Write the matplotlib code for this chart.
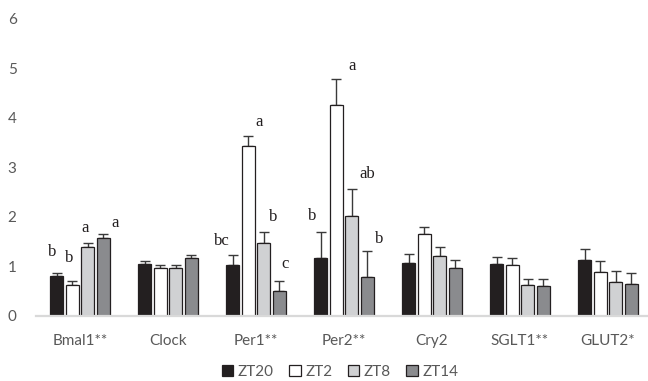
import matplotlib
matplotlib.use("Agg")
import matplotlib.pyplot as plt
from matplotlib.patches import Patch
import numpy as np

categories = ["Bmal1**", "Clock", "Per1**", "Per2**", "Cry2", "SGLT1**", "GLUT2*"]
series = ["ZT20", "ZT2", "ZT8", "ZT14"]

zt20 = [0.79, 1.05, 1.02, 1.16, 1.07, 1.05, 1.13]
zt2 = [0.61, 0.97, 3.42, 4.25, 1.64, 1.02, 0.88]
zt8 = [1.39, 0.97, 1.47, 2.01, 1.21, 0.61, 0.68]
zt14 = [1.57, 1.17, 0.49, 0.78, 0.97, 0.60, 0.63]

zt20_err = [0.08, 0.06, 0.20, 0.53, 0.18, 0.13, 0.22]
zt2_err = [0.08, 0.06, 0.21, 0.53, 0.16, 0.14, 0.22]
zt8_err = [0.08, 0.06, 0.22, 0.54, 0.17, 0.12, 0.22]
zt14_err = [0.07, 0.06, 0.21, 0.53, 0.16, 0.13, 0.23]

# significance letters: (category index, series index, text)
letters = [
    (0, 0, "b"), (0, 1, "b"), (0, 2, "a"), (0, 3, "a"),
    (2, 0, "bc"), (2, 1, "a"), (2, 2, "b"), (2, 3, "c"),
    (3, 0, "b"), (3, 1, "a"), (3, 2, "ab"), (3, 3, "b"),
]
# offsets in pixels for each letter (dx, dy)
letter_offsets = [
    (-4, 21), (-3, 23), (-3, 15), (12, 11),
    (-11, 14), (11, 14), (9, 15), (6, 17),
    (-8, 16), (16, 13), (15, 15), (12, 12),
]

values = [zt20, zt2, zt8, zt14]
errors = [zt20_err, zt2_err, zt8_err, zt14_err]
colors = ["#231f20", "#ffffff", "#d0d1d3", "#8a8b8e"]

fig = plt.figure(figsize=(6.48, 3.81), dpi=100)
ax = fig.add_axes([36 / 648, 65.5 / 381, 616 / 648, 296.5 / 381])

x = np.arange(len(categories))
slot = 0.178
bw = 0.150
offs = [-1.5, -0.5, 0.5, 1.5]
for i in range(4):
    xs = x + offs[i] * slot
    ax.bar(xs, values[i], width=bw, color=colors[i], edgecolor="#231f20",
           linewidth=0.9, zorder=3)
    ax.errorbar(xs, values[i], yerr=[np.zeros(len(x)), errors[i]], fmt="none",
                ecolor="#3a3a3a", elinewidth=1.0, capsize=3.3, capthick=1.0,
                zorder=2)

for (ci, si, t), (dx, dy) in zip(letters, letter_offsets):
    xs = x[ci] + offs[si] * slot
    ytop = values[si][ci] + errors[si][ci]
    ax.annotate(t, (xs, ytop), xytext=(dx, dy), textcoords="offset pixels",
                ha="center", va="center", fontsize=12,
                family="Liberation Serif", color="#231f20")

ax.set_xlim(-0.5, 6.5)
ax.set_ylim(0, 6)
ax.set_yticks(range(0, 7))
ax.set_xticks(x)
ax.set_xticklabels(categories)
for s in ["top", "right", "left"]:
    ax.spines[s].set_visible(False)
ax.spines["bottom"].set_color("#d9d9d9")
ax.spines["bottom"].set_linewidth(1.6)
ax.spines["bottom"].set_zorder(4)
ax.tick_params(axis="both", length=0, colors="#595959", labelsize=11)
ax.tick_params(axis="x", pad=13)
ax.tick_params(axis="y", pad=14)
for lab in ax.get_xticklabels() + ax.get_yticklabels():
    lab.set_family("Lato")

handles = [Patch(facecolor=c, edgecolor="#231f20", linewidth=0.9) for c in colors]
leg = fig.legend(handles, series, loc="center", bbox_to_anchor=(340 / 648, 1 - 372 / 381),
                 ncol=4, frameon=False, handlelength=0.75, handleheight=0.75,
                 handletextpad=0.3, columnspacing=1.0,
                 prop={"family": "Lato", "size": 11})
for t in leg.get_texts():
    t.set_color("#595959")

fig.savefig("out.png", dpi=100)
